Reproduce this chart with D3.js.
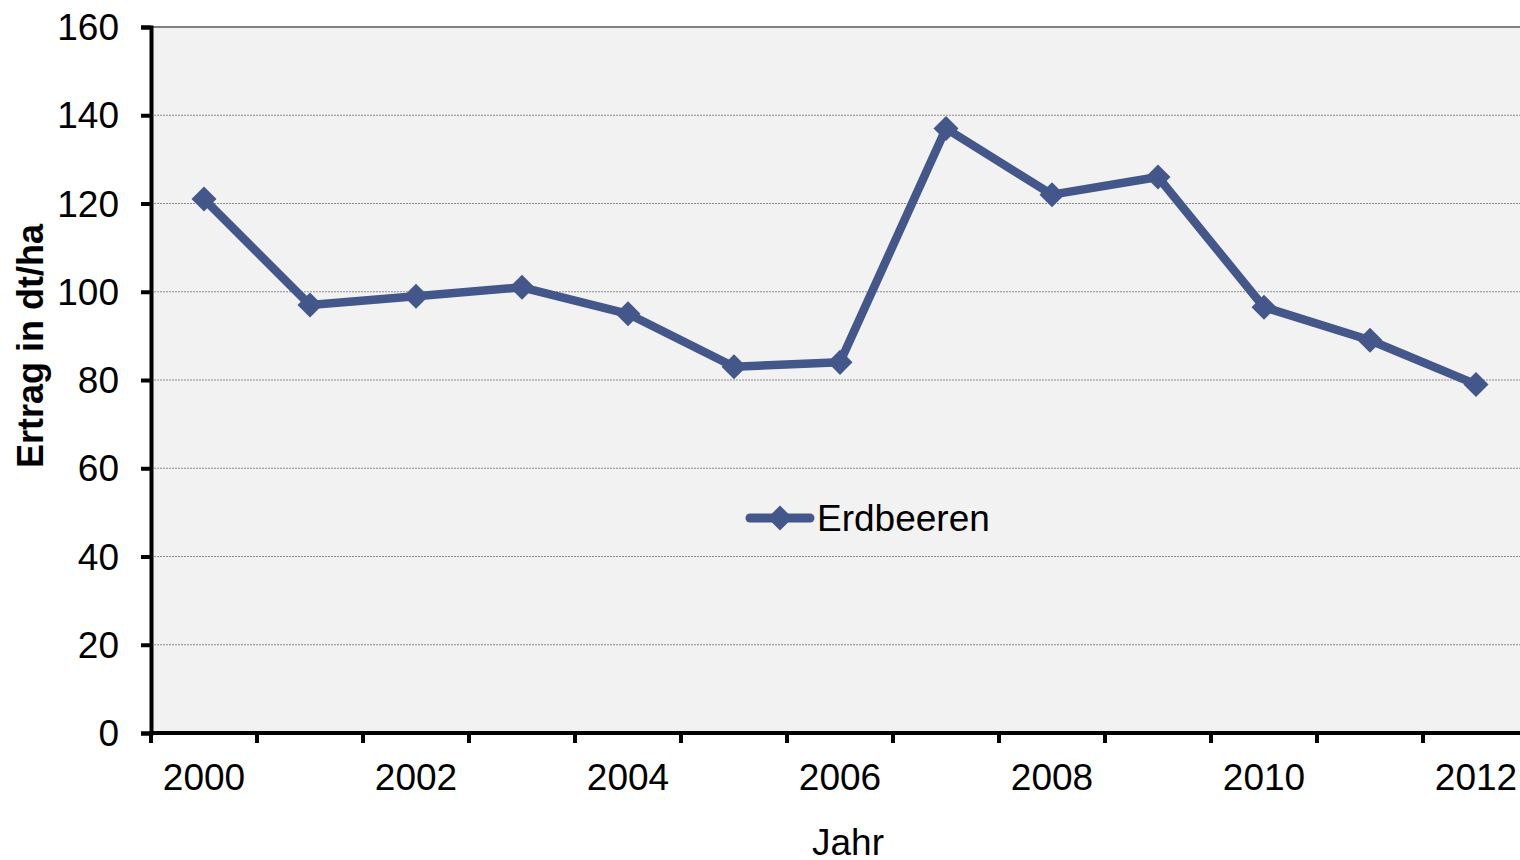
<!DOCTYPE html>
<html>
<head>
<meta charset="utf-8">
<script src="https://cdn.jsdelivr.net/npm/d3@7"></script>
<style>
  body { margin: 0; background: #fff; }
  svg { display: block; font-family: "Liberation Sans", Arial, sans-serif; }
</style>
</head>
<body>
<svg width="1520" height="860"></svg>
<script>
var years = [2000, 2001, 2002, 2003, 2004, 2005, 2006, 2007, 2008, 2009, 2010, 2011, 2012];
var erdbeeren = [121, 97, 99, 101, 95, 83, 84, 137, 122, 126, 96.5, 89, 79];
var yTicks = [0, 20, 40, 60, 80, 100, 120, 140, 160];
var xLabels = [2000, 2002, 2004, 2006, 2008, 2010, 2012];
var seriesName = "Erdbeeren";

var svg = d3.select("svg"),
    plotLeft = 151, plotTop = 27, plotBottom = 733, band = 106;

var x = d3.scaleBand().domain(years).range([plotLeft, plotLeft + band * years.length]),
    y = d3.scaleLinear().domain([0, 160]).range([plotBottom, plotTop]);

var color = "#44578a";

// plot background
svg.append("rect")
    .attr("x", plotLeft).attr("y", plotTop)
    .attr("width", x.range()[1] - plotLeft).attr("height", plotBottom - plotTop)
    .style("fill", "#f2f2f2");

// grid
svg.append("g").selectAll("line")
    .data(yTicks.filter(function(d) { return d > 0 && d < 160; }))
    .enter().append("line")
      .attr("x1", plotLeft).attr("x2", x.range()[1])
      .attr("y1", function(d) { return y(d); })
      .attr("y2", function(d) { return y(d); })
      .style("stroke", "#8c8c8c")
      .style("stroke-width", 1)
      .style("stroke-dasharray", "2,1");

// top border
svg.append("line")
    .attr("x1", plotLeft).attr("x2", x.range()[1])
    .attr("y1", y(160)).attr("y2", y(160))
    .style("stroke", "#808080").style("stroke-width", 2);

// y axis
var yAxis = d3.axisLeft(y).tickValues(yTicks).tickSize(10).tickPadding(22);
var gy = svg.append("g").attr("transform", "translate(" + plotLeft + ",0)").call(yAxis);
gy.select(".domain").style("stroke", "#000").style("stroke-width", 4);
gy.selectAll(".tick line").style("stroke", "#000").style("stroke-width", 4);
gy.selectAll("text").style("font-size", "37px").style("fill", "#000").attr("dy", "0.34em");

// x axis
svg.append("line")
    .attr("x1", plotLeft - 2).attr("x2", x.range()[1])
    .attr("y1", plotBottom).attr("y2", plotBottom)
    .style("stroke", "#000").style("stroke-width", 4);

svg.append("g").selectAll("line")
    .data(years)
    .enter().append("line")
      .attr("x1", function(d) { return x(d); })
      .attr("x2", function(d) { return x(d); })
      .attr("y1", plotBottom).attr("y2", plotBottom + 10)
      .style("stroke", "#000").style("stroke-width", 4);

var xAxis = d3.axisBottom(x).tickValues(xLabels).tickSize(0).tickPadding(31);
var gx = svg.append("g").attr("transform", "translate(0," + plotBottom + ")").call(xAxis);
gx.select(".domain").remove();
gx.selectAll("text").style("font-size", "37px").style("fill", "#000");

// line
var line = d3.line()
    .x(function(d, i) { return x(years[i]) + x.bandwidth() / 2; })
    .y(function(d) { return y(d); });

svg.append("path")
    .datum(erdbeeren)
    .attr("d", line)
    .style("fill", "none")
    .style("stroke", color)
    .style("stroke-width", 8.5)
    .style("stroke-linejoin", "round");

var diamond = d3.symbol().type(d3.symbolDiamond2).size(400);

svg.append("g").selectAll("path")
    .data(erdbeeren)
    .enter().append("path")
      .attr("d", diamond)
      .attr("transform", function(d, i) {
        return "translate(" + (x(years[i]) + x.bandwidth() / 2) + "," + y(d) + ")";
      })
      .style("fill", color);

// legend
var lg = svg.append("g").attr("transform", "translate(780,518)");
lg.append("line")
    .attr("x1", -30).attr("x2", 30)
    .style("stroke", color).style("stroke-width", 9).style("stroke-linecap", "round");
lg.append("path").attr("d", diamond).style("fill", color);
lg.append("text")
    .attr("x", 37).attr("y", 13)
    .style("font-size", "37px")
    .text(seriesName);

// axis titles
svg.append("text")
    .attr("transform", "translate(43,346) rotate(-90)")
    .attr("text-anchor", "middle")
    .style("font-size", "36px").style("font-weight", "bold")
    .text("Ertrag in dt/ha");

svg.append("text")
    .attr("x", 848).attr("y", 855)
    .attr("text-anchor", "middle")
    .style("font-size", "37px")
    .text("Jahr");
</script>
</body>
</html>
